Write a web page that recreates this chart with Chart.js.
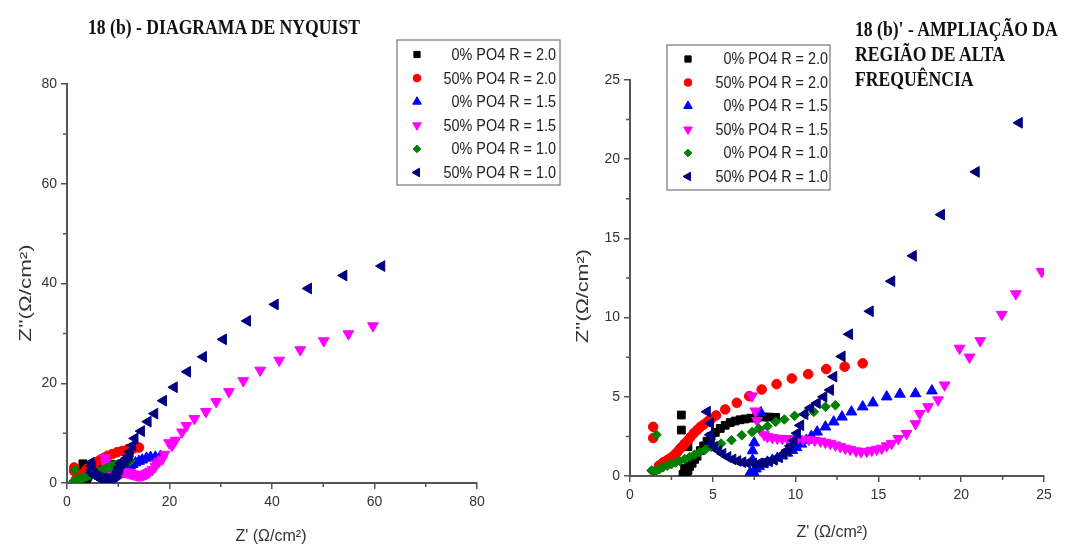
<!DOCTYPE html>
<html>
<head>
<meta charset="utf-8">
<script src="https://cdn.jsdelivr.net/npm/chart.js"></script>
<style>
  html, body { margin: 0; padding: 0; background: #fff; }
  #wrap { position: relative; width: 1068px; height: 549px; overflow: hidden; }
  canvas { position: absolute; left: 0; top: 0; }
  .title {
    position: absolute;
    font-family: "Liberation Serif", "Times New Roman", serif;
    font-weight: bold;
    font-size: 21px;
    line-height: 25px;
    color: #111;
    white-space: nowrap;
    transform: scale(0.84, 1);
    transform-origin: 0 0;
  }
</style>
</head>
<body>
<div id="wrap">
  <canvas id="full" width="1068" height="549"></canvas>
  <canvas id="zoom" width="1068" height="549"></canvas>
  <div class="title" style="left:88px; top:15px">18 (b) - DIAGRAMA DE NYQUIST</div>
  <div class="title" style="left:855px; top:17px">18 (b)' - AMPLIAÇÃO DA<br>REGIÃO DE ALTA<br>FREQUÊNCIA</div>
</div>
<script>
// legend labels, same order as the series below
const seriesNames = ['0% PO4 R = 2.0', '50% PO4 R = 2.0', '0% PO4 R = 1.5',
                     '50% PO4 R = 1.5', '0% PO4 R = 1.0', '50% PO4 R = 1.0'];

// [Z', Z''] pairs (ohm/cm2)
const p0R20 = [[3.1,3.85],[3.1,2.9],[3.5,1.85],[3.2,0.1],[3.3,0.0],[3.4,0.15],[3.3,0.5],[3.5,0.35],
  [3.6,0.6],[3.75,0.8],[3.9,1.05],[4.05,1.25],[4.25,1.6],[4.45,1.9],[4.65,2.2],[4.9,2.5],[5.15,2.75],
  [5.45,3.0],[5.75,3.2],[6.05,3.37],[6.35,3.47],[6.65,3.55],[6.95,3.6],[7.3,3.65],[7.65,3.7],
  [8.05,3.72],[8.4,3.72],[8.8,3.7]];

const p50R20 = [[1.4,3.1],[1.4,2.4],[1.75,0.65],[1.9,0.75],[2.0,0.85],[2.1,0.9],[2.25,1.0],[2.4,1.1],
  [2.55,1.2],[2.7,1.35],[2.85,1.5],[3.0,1.7],[3.15,1.85],[3.3,2.05],[3.5,2.25],[3.65,2.45],[3.85,2.7],
  [4.05,2.9],[4.25,3.1],[4.45,3.25],[4.7,3.45],[4.9,3.6],[5.2,3.82],[5.75,4.2],[6.45,4.62],[7.2,5.04],
  [7.95,5.46],[8.85,5.8],[9.77,6.16],[10.76,6.43],[11.85,6.75],[12.96,6.9],[14.05,7.11]];

const p0R15 = [[7.9,4.0],[7.5,2.1],[7.4,1.6],[7.4,1.0],[7.3,0.1],[7.25,0.2],[7.35,0.0],[7.5,0.1],
  [7.45,0.25],[7.6,0.45],[7.8,0.6],[8.05,0.75],[8.3,0.88],[8.6,1.0],[8.9,1.13],[9.2,1.28],[9.5,1.45],
  [9.8,1.62],[10.05,1.8],[10.35,2.02],[10.65,2.26],[10.95,2.5],[11.3,2.78],[11.8,3.1],[12.3,3.42],
  [12.8,3.73],[13.37,4.05],[14.05,4.37],[14.67,4.62],[15.5,5.0],[16.3,5.17],[17.24,5.2],[18.23,5.38]];

const p50R15 = [[7.37,5.05],[7.57,4.1],[7.67,3.5],[7.87,2.9],[8.1,2.6],[8.3,2.48],[8.6,2.42],[8.9,2.38],
  [9.2,2.36],[9.5,2.36],[9.8,2.36],[10.1,2.35],[10.45,2.32],[10.8,2.3],[11.15,2.25],[11.5,2.2],
  [11.8,2.12],[12.1,2.05],[12.4,1.95],[12.7,1.85],[13.0,1.75],[13.3,1.67],[13.65,1.58],[13.95,1.52],
  [14.3,1.55],[14.6,1.62],[14.9,1.68],[15.2,1.75],[15.5,1.9],[15.8,2.05],[16.2,2.36],[16.7,2.68],
  [17.24,3.3],[17.5,3.94],[18.0,4.37],[18.6,4.8],[19.0,5.74],[19.9,8.06],[20.5,7.5],[21.15,8.54],
  [22.45,10.2],[23.3,11.5],[24.86,12.9],[27.1,14.3],[29.1,16.3],[31.6,18.3],[34.4,20.5],[37.7,22.6],
  [41.4,24.6],[45.5,26.7],[50.1,28.5],[54.9,29.9],[59.7,31.5]];

const p0R10 = [[1.6,2.6],[1.3,0.35],[1.45,0.3],[1.6,0.35],[1.8,0.45],[2.0,0.55],[2.25,0.65],[2.5,0.75],
  [2.75,0.85],[3.0,0.95],[3.3,1.07],[3.6,1.2],[3.9,1.35],[4.2,1.5],[4.55,1.67],[4.9,1.84],[5.5,2.05],
  [6.13,2.26],[6.75,2.57],[7.37,2.78],[7.78,3.0],[8.3,3.14],[8.8,3.42],[9.32,3.57],[9.94,3.8],
  [10.56,3.9],[11.1,4.05],[11.8,4.37],[12.4,4.47]];

const p50R10 = [[4.66,4.06],[4.86,3.33],[4.86,2.6],[4.9,2.1],[5.1,1.85],[5.35,1.6],[5.6,1.4],[5.9,1.2],
  [6.2,1.05],[6.5,0.95],[6.8,0.87],[7.1,0.82],[7.45,0.8],[7.8,0.8],[8.1,0.85],[8.4,0.92],[8.7,1.02],
  [9.0,1.18],[9.25,1.38],[9.5,1.62],[9.7,1.9],[9.9,2.25],[10.1,2.7],[10.3,3.2],[10.55,3.9],[10.9,4.3],
  [11.3,4.6],[11.7,5.0],[12.1,5.43],[12.3,6.27],[12.8,7.55],[13.25,8.95],[14.5,10.4],[15.8,12.3],
  [17.1,13.9],[18.8,16.5],[20.9,19.2],[23.5,22.3],[26.6,25.3],[30.5,28.8],[35.2,32.5],[40.6,35.8],
  [47.1,39.0],[54.0,41.6],[61.4,43.5]];

const allSeries = [p0R20, p50R20, p0R15, p50R15, p0R10, p50R10];
const colors = ['#000000', '#ff0000', '#0000ff', '#ff00ff', '#007f00', '#00007f'];
const styles = ['rect', 'circle', 'triangle', 'triangle', 'rectRot', 'triangle'];
const rotations = [0, 0, 0, 180, 0, -90];
const radii = [5.5, 4.8, 6.2, 6.2, 4.8, 6.2];

const FONT = '"Liberation Sans", Arial, sans-serif';
const AXIS = '#555';

// minor ticks, axis titles and the boxed legend
const decor = {
  id: 'decor',
  afterDraw(chart, args, o) {
    const ctx = chart.ctx;
    const xs = chart.scales.x, ys = chart.scales.y;
    ctx.save();
    ctx.strokeStyle = AXIS;
    ctx.lineWidth = 1.5;
    ctx.beginPath();
    for (let v = o.minor; v < xs.max; v += o.minor * 2) {
      const px = xs.getPixelForValue(v);
      ctx.moveTo(px, xs.top); ctx.lineTo(px, xs.top + 4);
    }
    for (let v = o.minor; v < ys.max; v += o.minor * 2) {
      const py = ys.getPixelForValue(v);
      ctx.moveTo(ys.right, py); ctx.lineTo(ys.right - 4, py);
    }
    ctx.stroke();

    // axis titles
    ctx.fillStyle = '#333';
    ctx.font = '16px ' + FONT;
    ctx.textAlign = 'center';
    ctx.textBaseline = 'middle';
    ctx.fillText("Z' (Ω/cm²)", o.xTitle[0], o.xTitle[1]);
    ctx.save();
    ctx.translate(o.yTitle[0], o.yTitle[1]);
    ctx.rotate(-Math.PI / 2);
    ctx.scale(o.yStretch, 1);
    ctx.fillText("Z''(Ω/cm²)", 0, 0);
    ctx.restore();

    // legend box
    const b = o.box;
    ctx.fillStyle = '#fff';
    ctx.fillRect(b[0], b[1], b[2], b[3]);
    ctx.strokeStyle = '#777';
    ctx.lineWidth = 1.2;
    ctx.strokeRect(b[0], b[1], b[2], b[3]);
    ctx.font = '16px ' + FONT;
    ctx.textAlign = 'right';
    seriesNames.forEach((name, i) => {
      const y = o.row0 + i * o.rowStep;
      ctx.fillStyle = colors[i];
      ctx.strokeStyle = colors[i];
      ctx.lineWidth = 1;
      Chart.helpers.drawPoint(ctx, {pointStyle: styles[i], rotation: rotations[i],
        radius: radii[i] * 0.8, borderWidth: 1}, o.markX, y);
      ctx.fillStyle = '#222';
      ctx.save();
      ctx.translate(o.textRight, y + 1);
      ctx.scale(0.9, 1);
      ctx.fillText(name, 0, 0);
      ctx.restore();
    });
    ctx.restore();
  }
};

function makeChart(id, opt) {
  const datasets = allSeries.map((pts, i) => ({
    label: seriesNames[i],
    data: pts.map(p => ({x: p[0], y: p[1]})),
    pointStyle: styles[i],
    rotation: rotations[i],
    pointRadius: radii[i],
    backgroundColor: colors[i],
    borderColor: colors[i],
    borderWidth: 1,
    order: allSeries.length - i
  }));
  const tickFont = {family: FONT, size: 14};
  new Chart(document.getElementById(id), {
    type: 'scatter',
    data: {datasets},
    options: {
      responsive: false,
      animation: false,
      events: [],
      layout: {padding: opt.pad},
      plugins: {legend: {display: false}, tooltip: {enabled: false}, decor: opt.decor},
      scales: {
        x: {
          type: 'linear', min: 0, max: opt.max,
          ticks: {stepSize: opt.step, color: '#333', font: tickFont, padding: 5, maxRotation: 0},
          grid: {drawOnChartArea: false, tickLength: 6, color: AXIS, lineWidth: 1.5},
          border: {color: AXIS, width: 2},
          afterFit: s => { s.height = opt.xH; }
        },
        y: {
          type: 'linear', min: 0, max: opt.max,
          ticks: {stepSize: opt.step, color: '#333', font: tickFont, padding: 4},
          grid: {drawOnChartArea: false, tickLength: 6, color: AXIS, lineWidth: 1.5},
          border: {color: AXIS, width: 2},
          afterFit: s => { s.width = opt.yW; }
        }
      }
    },
    plugins: [decor]
  });
}

makeChart('full', {
  max: 80, step: 20, yW: 67, xH: 66,
  pad: {left: 0, top: 84, right: 1068 - 477, bottom: 0},
  decor: {minor: 10, xTitle: [271, 537], yTitle: [27, 293], yStretch: 1.4,
          box: [397, 40, 163, 145], row0: 54.5, rowStep: 23.6, markX: 417, textRight: 556}
});

makeChart('zoom', {
  max: 25, step: 5, yW: 630, xH: 73,
  pad: {left: 0, top: 80, right: 1068 - 1044, bottom: 0},
  decor: {minor: 2.5, xTitle: [832, 533], yTitle: [584, 296], yStretch: 1.35,
          box: [667, 45, 163, 145], row0: 59, rowStep: 23.5, markX: 688, textRight: 828}
});
</script>
</body>
</html>
